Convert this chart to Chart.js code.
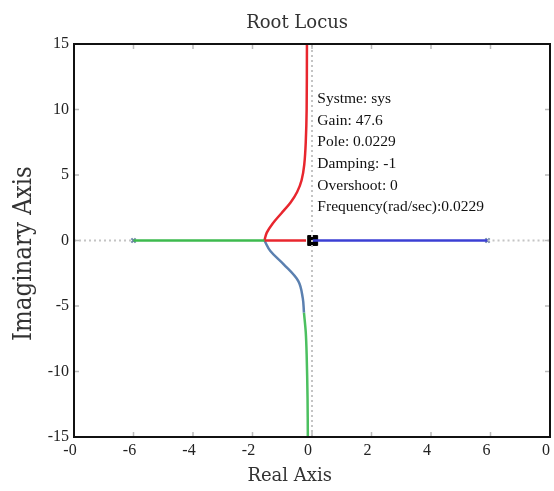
<!DOCTYPE html>
<html>
<head>
<meta charset="utf-8">
<script src="https://cdn.jsdelivr.net/npm/chart.js@4/dist/chart.umd.min.js"></script>
<style>
  html, body { margin: 0; padding: 0; background: #fff; }
  #wrap { width: 554px; height: 491px; }
</style>
</head>
<body>
<div id="wrap"><canvas id="rootLocusChart"></canvas></div>
<script>
// root locus data
const xTicks = [-8, -6, -4, -2, 0, 2, 4, 6, 8]
const xTickLabels = ['-0', '-6', '-4', '-2', '0', '2', '4', '6', '0']
const yTicks = [-15, -10, -5, 0, 5, 10, 15]

const greenRealX = [-6, -1.6]
const greenRealY = [0, 0]

const redRealX = [-1.6, -0.2]
const redRealY = [0, 0]

const redUpperX = [-1.6, -1.52, -1.32, -1.02, -0.72, -0.5, -0.35, -0.26, -0.21, -0.18, -0.17]
const redUpperY = [0, 0.6, 1.3, 2.1, 2.9, 3.7, 4.6, 5.8, 7.5, 10, 15]

const blueRealX = [0.0229, 5.9]
const blueRealY = [0, 0]

const steelLowerX = [-1.6, -1.4, -0.96, -0.46, -0.31, -0.27]
const steelLowerY = [0, -0.8, -1.8, -3.1, -4.4, -5.5]

const greenLowerX = [-0.27, -0.21, -0.18, -0.15, -0.14]
const greenLowerY = [-5.5, -7, -8.7, -12, -15]

const poleX = [-6, 5.9]
const poleY = [0, 0]

const selectedX = [0.0229]
const selectedY = [0]

const chartTitle = 'Root Locus'
const xTitle = 'Real Axis'
const yTitle = 'Imaginary Axis'

const infoLines = [
    'Systme: sys',
    'Gain: 47.6',
    'Pole: 0.0229',
    'Damping: -1',
    'Overshoot: 0',
    'Frequency(rad/sec):0.0229'
]

const zip = (xs, ys) => xs.map((x, i) => ({x: x, y: ys[i]}))

const lineSet = (xs, ys, color) => ({
    data: zip(xs, ys),
    showLine: true,
    borderColor: color,
    borderWidth: 2.5,
    pointRadius: 0,
    tension: 0.35,
    fill: false
})

const dotted = (xs, ys) => ({
    data: zip(xs, ys),
    showLine: true,
    borderColor: '#c4c4c4',
    borderWidth: 2,
    borderDash: [2, 3],
    pointRadius: 0,
    fill: false
})

// frame, inner tick marks, titles and the data tip text
const framePlugin = {
    id: 'frame',
    afterDatasetsDraw(chart) {
        const ctx = chart.ctx
        const a = chart.chartArea
        const xs = chart.scales.x
        const ys = chart.scales.y
        ctx.save()
        ctx.strokeStyle = '#bbb'
        ctx.lineWidth = 1.5
        xTicks.slice(1, -1).forEach(v => {
            const px = xs.getPixelForValue(v)
            ctx.beginPath()
            ctx.moveTo(px, a.top); ctx.lineTo(px, a.top + 5)
            ctx.moveTo(px, a.bottom); ctx.lineTo(px, a.bottom - 5)
            ctx.stroke()
        })
        yTicks.slice(1, -1).forEach(v => {
            const py = ys.getPixelForValue(v)
            ctx.beginPath()
            ctx.moveTo(a.left, py); ctx.lineTo(a.left + 5, py)
            ctx.moveTo(a.right, py); ctx.lineTo(a.right - 5, py)
            ctx.stroke()
        })
        ctx.strokeStyle = '#111'
        ctx.lineWidth = 2
        ctx.strokeRect(a.left, a.top, a.right - a.left, a.bottom - a.top)

        // data tip
        ctx.fillStyle = '#111'
        ctx.font = '15.5px "Liberation Serif"'
        ctx.textAlign = 'left'
        ctx.textBaseline = 'alphabetic'
        const tx = xs.getPixelForValue(0.18)
        let ty = ys.getPixelForValue(10.5)
        infoLines.forEach(line => {
            ctx.fillText(line, tx, ty)
            ty += 21.7
        })

        // titles
        ctx.fillStyle = '#333'
        ctx.textAlign = 'center'
        ctx.textBaseline = 'middle'
        ctx.font = '18px "DejaVu Serif"'
        ctx.fillText(chartTitle, xs.getPixelForValue(-0.5), 23)
        ctx.fillText(xTitle, xs.getPixelForValue(-0.75), 476)
        ctx.translate(24, ys.getPixelForValue(-1))
        ctx.rotate(-Math.PI / 2)
        ctx.font = '25.5px "DejaVu Serif Condensed", "DejaVu Serif"'
        ctx.fillText(yTitle, 0, 0)
        ctx.restore()
    }
}

const ctxEl = document.getElementById('rootLocusChart')
new Chart(ctxEl, {
    type: 'scatter',
    data: {
        datasets: [
            dotted([0, 0], [-15, 15]),
            dotted([-8, -6], [0, 0]),
            dotted([5.9, 8], [0, 0]),
            lineSet(greenRealX, greenRealY, '#3dba4e'),
            lineSet(redRealX, redRealY, '#e8262e'),
            lineSet(redUpperX, redUpperY, '#e8262e'),
            lineSet(blueRealX, blueRealY, '#3b3fd4'),
            lineSet(steelLowerX, steelLowerY, '#5b80b0'),
            lineSet(greenLowerX, greenLowerY, '#4cc060'),
            {
                data: zip(poleX, poleY),
                pointStyle: 'crossRot',
                pointRadius: 3,
                borderColor: '#6f86a8',
                borderWidth: 2
            },
            {
                data: zip(selectedX, selectedY),
                pointStyle: 'rect',
                pointRadius: 7,
                backgroundColor: '#000',
                borderColor: '#000',
                borderWidth: 1
            }
        ]
    },
    options: {
        responsive: true,
        maintainAspectRatio: false,
        animation: false,
        layout: { autoPadding: false, padding: { left: 0, right: 0, top: 44, bottom: 0 } },
        plugins: {
            legend: { display: false },
            tooltip: { enabled: false },
            title: { display: false }
        },
        scales: {
            x: {
                type: 'linear',
                min: -8,
                max: 8,
                afterBuildTicks: s => { s.ticks = xTicks.map(v => ({value: v})) },
                afterFit: s => { s.height = 54; s.paddingLeft = 0; s.paddingRight = 4 },
                ticks: {
                    color: '#222',
                    font: { family: 'Liberation Serif', size: 16 },
                    padding: 4,
                    labelOffset: -4,
                    maxRotation: 0,
                    callback: v => xTickLabels[xTicks.indexOf(v)]
                },
                grid: { display: false, drawTicks: false },
                border: { display: false }
            },
            y: {
                type: 'linear',
                min: -15,
                max: 15,
                afterBuildTicks: s => { s.ticks = yTicks.map(v => ({value: v})) },
                afterFit: s => { s.width = 74; s.paddingTop = 0; s.paddingBottom = 0 },
                ticks: {
                    color: '#222',
                    font: { family: 'Liberation Serif', size: 16 },
                    padding: 5
                },
                grid: { display: false, drawTicks: false },
                border: { display: false }
            }
        }
    },
    plugins: [framePlugin]
})
</script>
</body>
</html>
